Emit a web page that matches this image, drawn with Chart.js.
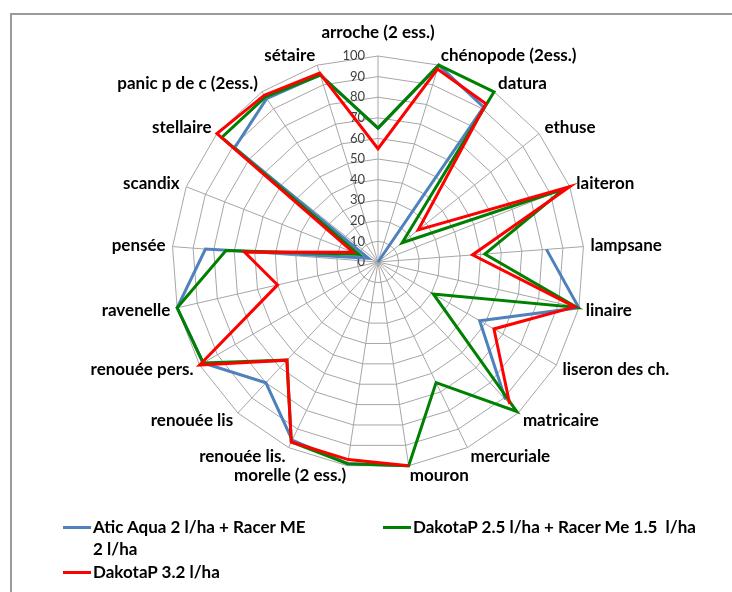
<!DOCTYPE html>
<html>
<head>
<meta charset="utf-8">
<title>Efficacité désherbage</title>
<script src="https://cdn.jsdelivr.net/npm/chart.js@4.4.1/dist/chart.umd.min.js"></script>
<style>
    body { margin: 0; background: #fff; }
    #wrap { position: relative; width: 732px; height: 592px; overflow: hidden; font-family: Lato, 'Open Sans', sans-serif; }
    #frame { position: absolute; left: 10px; top: 13px; width: 800px; height: 700px; border-top: 2px solid #9a9a9a; border-left: 2px solid #9a9a9a; }
    #chart { position: absolute; left: 0; top: 0; }
    .legend-item { position: absolute; padding-left: 30px; font-weight: bold; font-size: 17px; line-height: 22px; color: #000; white-space: nowrap; }
    .legend-item .swatch { position: absolute; left: 0; top: 10px; width: 28px; height: 3px; }
</style>
</head>
<body>
<div id="wrap">
    <div id="frame"></div>
    <canvas id="chart" width="732" height="592"></canvas>
    <div class="legend-item" style="left:63px; top:516px;"><span class="swatch" style="background:#4f81bd"></span>Atic Aqua 2 l/ha + Racer ME<br>2 l/ha</div>
    <div class="legend-item" style="left:383px; top:516px;"><span class="swatch" style="background:#008000"></span>DakotaP 2.5 l/ha + Racer Me 1.5&nbsp; l/ha</div>
    <div class="legend-item" style="left:63px; top:561px;"><span class="swatch" style="background:#ff0000"></span>DakotaP 3.2 l/ha</div>
</div>
<script>
// weeds (categories), clockwise from the top
const weeds = ['arroche (2 ess.)', 'chénopode (2ess.)', 'datura', 'ethuse', 'laiteron', 'lampsane',
    'linaire', 'liseron des ch.', 'matricaire', 'mercuriale', 'mouron', 'morelle (2 ess.)',
    'renouée lis.', 'renouée lis', 'renouée pers.', 'ravenelle', 'pensée', 'scandix',
    'stellaire', 'panic p de c (2ess.)', 'sétaire'];

// efficacy in %, null = not assessed (gap in the line)
const aticAqua = [65, 100, 91, 0, null, 82, 100, 57, 91, null, 100, 99, 96, 80, 98, 100, 84, 5, 89, 96, 95];
const dakota25 = [65, 100, 100, 15, 97, 52, 99, 31, 99, 65, 100, 99, 97, 65, 98, 100, 74, 10, 97, 97, 95];
const dakota32 = [55, 98, 93, 25, 100, 46, 98, 65, 94, null, 100, 97, 97, 65, 100, 50, 65, 13, 100, 98, 96];

const tickMin = 0;
const tickMax = 100;
const tickStep = 10;

// tick values drawn just left of the vertical axis, like Excel does
const tickLabelPlugin = {
    id: 'tickLabels',
    beforeDatasetsDraw(chart) {
        const scale = chart.scales.r;
        const ctx = chart.ctx;
        ctx.save();
        ctx.font = '13px Lato';
        ctx.fillStyle = '#404040';
        ctx.textAlign = 'right';
        ctx.textBaseline = 'middle';
        scale.ticks.forEach(t => {
            const y = scale.yCenter - scale.getDistanceFromCenterForValue(t.value);
            ctx.fillText(t.label, scale.xCenter - 13, y);
        });
        ctx.restore();
    }
};

// category labels, vertically centred on the spoke end (Excel style)
const pointLabelPlugin = {
    id: 'weedLabels',
    afterDatasetsDraw(chart) {
        const scale = chart.scales.r;
        const ctx = chart.ctx;
        ctx.save();
        ctx.font = 'bold 17px Lato';
        ctx.fillStyle = '#000';
        ctx.textBaseline = 'middle';
        chart.data.labels.forEach((label, i) => {
            const a = scale.getIndexAngle(i);
            const sin = Math.sin(a), cos = Math.cos(a);
            const p = scale.getPointPosition(i, scale.drawingArea);
            let x = p.x + sin * 7;
            let y = p.y - cos * 10;
            if (cos > 0.99) y -= 13; // keep clear of the "100" tick
            ctx.textAlign = Math.abs(sin) < 0.01 ? 'center' : (sin > 0 ? 'left' : 'right');
            ctx.fillText(label, x, y);
        });
        ctx.restore();
    }
};

new Chart(document.getElementById('chart'), {
    type: 'radar',
    data: {
        labels: weeds,
        datasets: [
            { label: 'Atic Aqua 2 l/ha + Racer ME 2 l/ha', data: aticAqua, borderColor: '#4f81bd', order: 3 },
            { label: 'DakotaP 2.5 l/ha + Racer Me 1.5  l/ha', data: dakota25, borderColor: '#008000', order: 2 },
            { label: 'DakotaP 3.2 l/ha', data: dakota32, borderColor: '#ff0000', order: 1 }
        ]
    },
    options: {
        responsive: false,
        animation: false,
        spanGaps: false,
        layout: { padding: { left: 172, right: 148, top: 56, bottom: 124 } },
        elements: {
            line: { borderWidth: 3, fill: false, tension: 0 },
            point: { radius: 0, hoverRadius: 0 }
        },
        plugins: { legend: { display: false }, tooltip: { enabled: false } },
        scales: {
            r: {
                min: tickMin,
                max: tickMax,
                ticks: { stepSize: tickStep, display: false },
                grid: { circular: false, color: '#a6a6a6', lineWidth: 1 },
                angleLines: { color: '#a6a6a6', lineWidth: 1 },
                pointLabels: { display: false }
            }
        }
    },
    plugins: [tickLabelPlugin, pointLabelPlugin]
});
</script>
</body>
</html>
